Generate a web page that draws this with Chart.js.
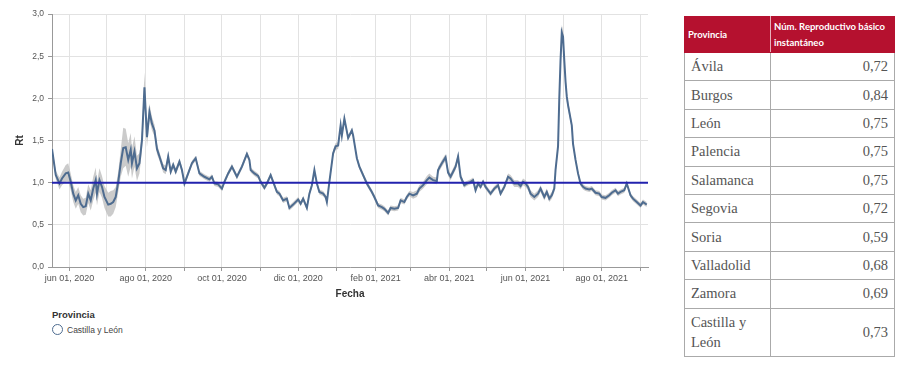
<!DOCTYPE html>
<html lang="es">
<head>
<meta charset="utf-8">
<title>Rt Castilla y León</title>
<script src="https://cdn.jsdelivr.net/npm/chart.js@4.4.0/dist/chart.umd.min.js"></script>
<style>
    html, body { margin: 0; padding: 0; background: #fff; }
    body { width: 900px; height: 377px; position: relative; overflow: hidden; font-family: 'Liberation Sans', Arial, sans-serif; }
    #grafico { position: absolute; left: 0; top: 0; width: 660px; height: 300px; }
    #leyenda { position: absolute; left: 52px; top: 309px; color: #333; }
    #leyenda .titulo { font-weight: bold; font-size: 9.5px; margin-bottom: 4px; }
    #leyenda .item { font-size: 8.5px; display: flex; align-items: center; color: #444; }
    #leyenda .item span.marca { width: 11px; height: 11px; border-radius: 50%; border: 1.5px solid #4e6c90; box-sizing: border-box; margin-right: 4px; }
    #tabla { position: absolute; left: 684px; top: 16px; border-collapse: collapse; width: 210px; table-layout: fixed; }
    #tabla th { background: #b5112f; color: #fff; font: bold 9.5px Lato, sans-serif; text-align: left; padding: 0 2px 0 3px; height: 35px; line-height: 16px; vertical-align: middle; border: 1px solid #b5112f; border-right: 1px solid #e8b0bb; }
    #tabla th:last-child { border-right: 1px solid #b5112f; }
    #tabla td { font: 14.5px 'Liberation Serif', serif; color: #555; border: 1px solid #aaa; padding: 0 6px; height: 27.4px; line-height: 19px; }
    #tabla tr:last-child td { height: 47px; line-height: 20px; }
    #tabla td.valor { text-align: right; }
</style>
</head>
<body>
<div id="grafico"><canvas id="rtChart"></canvas></div>
<div id="leyenda"></div>
<table id="tabla"></table>
<script>
// Fechas (muestras) y valores de Rt
const fechas = [
    '2020-05-18','2020-05-21','2020-05-24','2020-05-26','2020-05-29','2020-05-31','2020-06-02','2020-06-04','2020-06-06','2020-06-08',
    '2020-06-10','2020-06-12','2020-06-14','2020-06-16','2020-06-18','2020-06-20','2020-06-22','2020-06-23','2020-06-25','2020-06-27',
    '2020-06-29','2020-07-02','2020-07-04','2020-07-06','2020-07-08','2020-07-10','2020-07-12','2020-07-14','2020-07-16','2020-07-18',
    '2020-07-20','2020-07-21','2020-07-23','2020-07-25','2020-07-27','2020-07-29','2020-07-31','2020-08-02','2020-08-04','2020-08-06',
    '2020-08-08','2020-08-10','2020-08-12','2020-08-15','2020-08-17','2020-08-19','2020-08-21','2020-08-23','2020-08-25','2020-08-28',
    '2020-08-30','2020-09-01','2020-09-04','2020-09-07','2020-09-10','2020-09-13','2020-09-15','2020-09-17','2020-09-21','2020-09-23',
    '2020-09-25','2020-09-28','2020-10-01','2020-10-03','2020-10-06','2020-10-09','2020-10-13','2020-10-17','2020-10-21','2020-10-23',
    '2020-10-24','2020-10-27','2020-10-30','2020-11-01','2020-11-04','2020-11-06','2020-11-09','2020-11-11','2020-11-14','2020-11-16',
    '2020-11-19','2020-11-22','2020-11-24','2020-11-27','2020-12-01','2020-12-03','2020-12-05','2020-12-08','2020-12-10','2020-12-12',
    '2020-12-14','2020-12-16','2020-12-18','2020-12-21','2020-12-23','2020-12-24','2020-12-26','2020-12-29','2020-12-31','2021-01-02',
    '2021-01-04','2021-01-05','2021-01-07','2021-01-10','2021-01-13','2021-01-14','2021-01-17','2021-01-19','2021-01-22','2021-01-25',
    '2021-01-29','2021-01-31','2021-02-03','2021-02-06','2021-02-08','2021-02-11','2021-02-13','2021-02-16','2021-02-19','2021-02-21',
    '2021-02-24','2021-02-26','2021-02-28','2021-03-03','2021-03-06','2021-03-08','2021-03-11','2021-03-14','2021-03-16','2021-03-19',
    '2021-03-22','2021-03-23','2021-03-26','2021-03-29','2021-03-31','2021-04-02','2021-04-04','2021-04-06','2021-04-08','2021-04-10',
    '2021-04-13','2021-04-15','2021-04-18','2021-04-20','2021-04-22','2021-04-24','2021-04-26','2021-04-28','2021-04-30','2021-05-02',
    '2021-05-04','2021-05-07','2021-05-10','2021-05-12','2021-05-15','2021-05-18','2021-05-20','2021-05-23','2021-05-26','2021-05-28',
    '2021-05-30','2021-06-01','2021-06-03','2021-06-05','2021-06-08','2021-06-11','2021-06-13','2021-06-16','2021-06-18','2021-06-20',
    '2021-06-22','2021-06-24','2021-06-25','2021-06-27','2021-06-28','2021-06-29','2021-06-30','2021-07-01','2021-07-02','2021-07-03',
    '2021-07-04','2021-07-05','2021-07-06','2021-07-08','2021-07-09','2021-07-11','2021-07-13','2021-07-15','2021-07-17','2021-07-19',
    '2021-07-22','2021-07-24','2021-07-27','2021-07-30','2021-08-01','2021-08-04','2021-08-07','2021-08-09','2021-08-12','2021-08-14',
    '2021-08-16','2021-08-19','2021-08-21','2021-08-24','2021-08-26','2021-08-29','2021-09-01','2021-09-03','2021-09-05','2021-09-06'
];

const rt = [
    1.40, 1.09, 0.99, 1.05, 1.11, 1.12, 1.01, 0.87, 0.79, 0.85,
    0.75, 0.71, 0.72, 0.87, 0.79, 0.93, 1.03, 0.87, 1.03, 0.95,
    0.83, 0.74, 0.75, 0.77, 0.83, 1.01, 1.23, 1.41, 1.42, 1.27,
    1.39, 1.23, 1.37, 1.17, 1.23, 1.50, 2.13, 1.54, 1.84, 1.70,
    1.62, 1.40, 1.31, 1.17, 1.15, 1.31, 1.13, 1.21, 1.13, 1.25,
    1.15, 0.99, 1.11, 1.23, 1.29, 1.11, 1.09, 1.07, 1.04, 1.07,
    0.99, 0.98, 0.93, 1.01, 1.11, 1.19, 1.07, 1.19, 1.34, 1.27,
    1.15, 1.11, 1.08, 1.01, 0.94, 0.99, 1.09, 1.01, 0.89, 0.87,
    0.79, 0.81, 0.70, 0.74, 0.80, 0.75, 0.81, 0.70, 0.87, 0.97,
    1.15, 0.99, 0.89, 0.87, 0.83, 0.77, 1.01, 1.35, 1.43, 1.44,
    1.68, 1.56, 1.76, 1.53, 1.62, 1.56, 1.29, 1.19, 1.09, 0.99,
    0.89, 0.83, 0.73, 0.71, 0.69, 0.64, 0.70, 0.69, 0.70, 0.79,
    0.77, 0.83, 0.87, 0.85, 0.87, 0.93, 0.97, 1.03, 1.06, 1.03,
    1.02, 1.15, 1.23, 1.30, 1.12, 1.07, 1.13, 1.19, 1.31, 1.07,
    0.97, 0.99, 1.01, 1.03, 0.91, 0.99, 0.95, 1.01, 0.95, 0.91,
    0.87, 0.93, 0.97, 0.87, 0.95, 1.07, 1.05, 0.99, 0.99, 0.96,
    1.01, 0.99, 0.95, 0.87, 0.83, 0.87, 0.93, 0.83, 0.89, 0.81,
    0.85, 0.93, 1.15, 1.43, 2.00, 2.45, 2.78, 2.73, 2.45, 2.20,
    2.02, 1.92, 1.84, 1.68, 1.46, 1.27, 1.11, 0.99, 0.95, 0.93,
    0.92, 0.93, 0.88, 0.87, 0.83, 0.82, 0.85, 0.88, 0.91, 0.87,
    0.89, 0.91, 0.99, 0.85, 0.81, 0.77, 0.73, 0.77, 0.75, 0.74
];

// Semiamplitud del intervalo de confianza (banda gris)
const icRt = [
    0.04, 0.05, 0.07, 0.08, 0.10, 0.11, 0.10, 0.10, 0.10, 0.10,
    0.10, 0.10, 0.10, 0.11, 0.12, 0.14, 0.15, 0.14, 0.14, 0.13,
    0.13, 0.14, 0.15, 0.14, 0.12, 0.12, 0.16, 0.24, 0.22, 0.20,
    0.20, 0.18, 0.18, 0.15, 0.12, 0.12, 0.18, 0.12, 0.10, 0.08,
    0.07, 0.06, 0.05, 0.05, 0.05, 0.05, 0.04, 0.04, 0.04, 0.04,
    0.04, 0.04, 0.03, 0.03, 0.03, 0.03, 0.03, 0.03, 0.03, 0.03,
    0.03, 0.03, 0.03, 0.03, 0.03, 0.03, 0.03, 0.03, 0.03, 0.03,
    0.03, 0.03, 0.03, 0.03, 0.03, 0.03, 0.03, 0.03, 0.03, 0.03,
    0.03, 0.03, 0.03, 0.03, 0.03, 0.03, 0.03, 0.03, 0.03, 0.03,
    0.03, 0.03, 0.03, 0.03, 0.03, 0.03, 0.03, 0.04, 0.04, 0.04,
    0.04, 0.04, 0.04, 0.03, 0.03, 0.03, 0.03, 0.03, 0.03, 0.03,
    0.03, 0.03, 0.03, 0.03, 0.03, 0.03, 0.03, 0.03, 0.03, 0.03,
    0.03, 0.03, 0.03, 0.04, 0.04, 0.04, 0.04, 0.05, 0.05, 0.04,
    0.04, 0.04, 0.04, 0.04, 0.04, 0.04, 0.04, 0.04, 0.04, 0.04,
    0.03, 0.03, 0.03, 0.03, 0.03, 0.03, 0.03, 0.03, 0.03, 0.03,
    0.03, 0.03, 0.03, 0.03, 0.03, 0.04, 0.04, 0.04, 0.04, 0.04,
    0.04, 0.04, 0.04, 0.04, 0.04, 0.04, 0.04, 0.04, 0.04, 0.04,
    0.04, 0.04, 0.05, 0.06, 0.07, 0.08, 0.09, 0.08, 0.07, 0.06,
    0.06, 0.05, 0.05, 0.04, 0.04, 0.03, 0.03, 0.03, 0.03, 0.03,
    0.03, 0.03, 0.03, 0.03, 0.03, 0.03, 0.03, 0.03, 0.03, 0.03,
    0.03, 0.03, 0.03, 0.03, 0.03, 0.03, 0.03, 0.03, 0.03, 0.03
];

// Eje X: marcas mensuales y sus etiquetas
const marcasMes = [
    '2020-06-01','2020-07-01','2020-08-01','2020-09-01','2020-10-01','2020-11-01','2020-12-01','2021-01-01',
    '2021-02-01','2021-03-01','2021-04-01','2021-05-01','2021-06-01','2021-07-01','2021-08-01','2021-09-01'
];
const etiquetasX = [
    'jun 01, 2020','','ago 01, 2020','','oct 01, 2020','','dic 01, 2020','',
    'feb 01, 2021','','abr 01, 2021','','jun 01, 2021','','ago 01, 2021',''
];
const inicioEje = '2020-05-18';
const finEje = '2021-09-07';
const umbral = 1.0;

// Tabla de provincias
const provincias = ['Ávila', 'Burgos', 'León', 'Palencia', 'Salamanca', 'Segovia', 'Soria', 'Valladolid', 'Zamora', 'Castilla y León'];
const rtProvincia = [0.72, 0.84, 0.75, 0.75, 0.75, 0.72, 0.59, 0.68, 0.69, 0.73];

const colorLinea = '#4e6c90';
const colorUmbral = '#2222ae';
const colorBanda = 'rgba(185, 185, 185, 0.75)';

// Fecha 'AAAA-MM-DD' -> número de día
function dia(s) {
    const [a, m, d] = s.split('-').map(Number);
    return Date.UTC(a, m - 1, d) / 864e5;
}

function decimal(v, n) {
    return v.toFixed(n).replace('.', ',');
}

document.addEventListener('DOMContentLoaded', function() {
    initializeRtChart();
    buildLegend();
    buildTable();
});

function initializeRtChart() {
    const ctx = document.getElementById('rtChart');
    if (!ctx) return;

    const xMin = dia(inicioEje);
    const xMax = dia(finEje);
    const serie = fechas.map((f, i) => ({ x: dia(f), y: rt[i] }));
    const superior = fechas.map((f, i) => ({ x: dia(f), y: rt[i] + icRt[i] }));
    const inferior = fechas.map((f, i) => ({ x: dia(f), y: rt[i] - icRt[i] }));

    new Chart(ctx, {
        type: 'line',
        data: {
            datasets: [
                {
                    label: 'Umbral',
                    data: [{ x: xMin, y: umbral }, { x: xMax, y: umbral }],
                    borderColor: colorUmbral,
                    borderWidth: 2,
                    pointRadius: 0,
                    order: 0
                },
                {
                    label: 'Castilla y León',
                    data: serie,
                    borderColor: colorLinea,
                    borderWidth: 2,
                    pointRadius: 0,
                    tension: 0,
                    order: 1
                },
                {
                    label: 'IC superior',
                    data: superior,
                    borderWidth: 0,
                    borderColor: 'rgba(0,0,0,0)',
                    pointRadius: 0,
                    order: 2
                },
                {
                    label: 'IC inferior',
                    data: inferior,
                    borderWidth: 0,
                    borderColor: 'rgba(0,0,0,0)',
                    backgroundColor: colorBanda,
                    pointRadius: 0,
                    fill: 2,
                    order: 3
                }
            ]
        },
        options: {
            responsive: true,
            maintainAspectRatio: false,
            animation: false,
            layout: {
                padding: { top: 14, right: 12, left: 0, bottom: 0 }
            },
            plugins: {
                legend: { display: false },
                tooltip: { enabled: false }
            },
            scales: {
                x: {
                    type: 'linear',
                    min: xMin,
                    max: xMax,
                    afterBuildTicks: function(scale) {
                        scale.ticks = marcasMes.map(f => ({ value: dia(f) }));
                    },
                    afterFit: function(scale) {
                        scale.height = 33;
                    },
                    ticks: {
                        autoSkip: false,
                        maxRotation: 0,
                        padding: 2,
                        color: '#555',
                        font: { family: "'Liberation Sans', Arial, sans-serif", size: 9 },
                        callback: function(value, index) {
                            return etiquetasX[index];
                        }
                    },
                    grid: {
                        color: '#e2e2e2',
                        tickLength: 4,
                        tickColor: '#999'
                    },
                    border: { color: '#999' },
                    title: {
                        display: true,
                        text: 'Fecha',
                        color: '#333',
                        font: { family: "'Liberation Sans', Arial, sans-serif", size: 10, weight: 'bold' },
                        padding: { top: 4, bottom: 0 }
                    }
                },
                y: {
                    min: 0,
                    max: 3,
                    afterFit: function(scale) {
                        scale.width = 52;
                    },
                    ticks: {
                        stepSize: 0.5,
                        padding: 4,
                        color: '#555',
                        font: { family: "'Liberation Sans', Arial, sans-serif", size: 8.5 },
                        callback: function(value) {
                            return decimal(value, 1);
                        }
                    },
                    grid: {
                        color: '#e2e2e2',
                        tickLength: 4,
                        tickColor: '#999'
                    },
                    border: { color: '#999' },
                    title: {
                        display: true,
                        text: 'Rt',
                        color: '#333',
                        font: { family: "'Liberation Sans', Arial, sans-serif", size: 10, weight: 'bold' },
                        padding: { top: 14, bottom: 0 }
                    }
                }
            }
        }
    });
}

function buildLegend() {
    const el = document.getElementById('leyenda');
    el.innerHTML = '<div class="titulo">Provincia</div>' +
        '<div class="item"><span class="marca"></span>Castilla y León</div>';
}

function buildTable() {
    const tabla = document.getElementById('tabla');
    let html = '<colgroup><col style="width:86px"><col style="width:124px"></colgroup>';
    html += '<tr><th>Provincia</th><th>Núm. Reproductivo básico instantáneo</th></tr>';
    provincias.forEach((p, i) => {
        html += '<tr><td>' + p + '</td><td class="valor">' + decimal(rtProvincia[i], 2) + '</td></tr>';
    });
    tabla.innerHTML = html;
}
</script>
</body>
</html>
